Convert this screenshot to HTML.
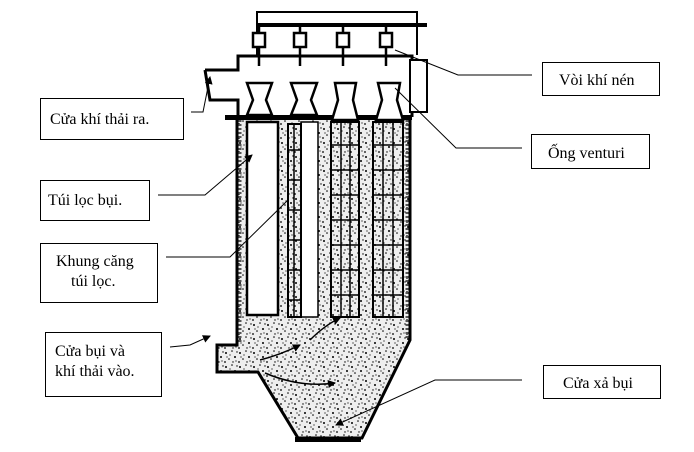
<!DOCTYPE html>
<html><head><meta charset="utf-8"><style>
html,body{margin:0;padding:0;background:#fff;}
svg{display:block}
text{font-family:"Liberation Serif",serif;font-size:16px;fill:#000}
</style></head><body>
<svg width="694" height="452" viewBox="0 0 694 452" xmlns="http://www.w3.org/2000/svg">
<defs>
<pattern id="dust" width="14" height="14" patternUnits="userSpaceOnUse">
<rect width="14" height="14" fill="#eeeeee"/>
<circle cx="2" cy="3" r="1" fill="#000"/><circle cx="8" cy="1" r="0.8" fill="#000"/>
<circle cx="11" cy="7" r="1" fill="#000"/><circle cx="5" cy="9" r="0.8" fill="#000"/>
<circle cx="1" cy="12" r="0.9" fill="#000"/><circle cx="9" cy="12" r="0.7" fill="#000"/>
<circle cx="6" cy="5" r="0.6" fill="#000"/><circle cx="13" cy="2" r="0.7" fill="#000"/>
<circle cx="3" cy="7" r="0.6" fill="#000"/><circle cx="12" cy="11" r="0.6" fill="#000"/>
</pattern>
<marker id="ar" markerWidth="8" markerHeight="8" refX="7" refY="4" orient="auto" markerUnits="userSpaceOnUse"><path d="M0,0 L8,4 L0,8 z" fill="#000"/></marker>
</defs>

<path d="M257,55 V12 H417 V55" fill="none" stroke="#000" stroke-width="2"/>
<line x1="258" y1="25" x2="427" y2="25" stroke="#000" stroke-width="4"/>
<g fill="#fff" stroke="#000" stroke-width="2.5">
<rect x="253" y="33" width="12" height="14"/><rect x="294" y="33" width="12" height="14"/>
<rect x="337" y="33" width="12" height="14"/><rect x="380" y="33" width="12" height="14"/>
</g>
<g stroke="#000" stroke-width="2.5">
<line x1="259" y1="25" x2="259" y2="33"/><line x1="300" y1="25" x2="300" y2="33"/>
<line x1="343" y1="25" x2="343" y2="33"/><line x1="386" y1="25" x2="386" y2="33"/>
<line x1="259" y1="47" x2="259" y2="66"/><line x1="300" y1="47" x2="300" y2="66"/>
<line x1="343" y1="47" x2="343" y2="66"/><line x1="386" y1="47" x2="386" y2="66"/>
</g>

<path d="M237,117 H410 V340 L362,438 H298 L258,372 H217 V345 H237 Z" fill="url(#dust)"/>
<path d="M205,70 H238 V56 H412 V117" fill="none" stroke="#000" stroke-width="3"/>
<path d="M205,70 L210,100 H238 V117" fill="none" stroke="#000" stroke-width="3"/>
<rect x="410" y="60" width="17" height="52" fill="#fff" stroke="#000" stroke-width="2"/>
<rect x="225" y="115" width="187" height="5" fill="#000"/>
<g fill="#fff" stroke="#000" stroke-width="2.5">
<path d="M247,83 H272 L266,100 L272,115 H247 L253,100 Z"/>
<path d="M291,83 H317 L311,100 L317,115 H291 L297,100 Z"/>
<path d="M335,83 H356 L353,100 L358,120 H332 L338,100 Z"/>
<path d="M378,83 H400 L397,100 L403,120 H376 L382,100 Z"/>
</g>
<path d="M237,117 V345 H217 V372 H258 L298,438 H362 L410,340 V117" fill="none" stroke="#000" stroke-width="3"/>
<path d="M240,120 V342 M407,120 V338" fill="none" stroke="#555" stroke-width="3" stroke-dasharray="2 2"/>
<rect x="295" y="437" width="66" height="5" fill="#000"/>
<rect x="247" y="122" width="31" height="193" fill="#fff" stroke="#000" stroke-width="2.5"/>
<rect x="301" y="122" width="17" height="195" fill="#fff" stroke="#000" stroke-width="1.5"/>
<g fill="none" stroke="#000" stroke-width="2">
<rect x="288" y="124" width="13" height="193"/>
<rect x="331" y="122" width="28" height="195"/>
<rect x="373" y="122" width="30" height="195"/>
</g>
<g stroke="#000" stroke-width="1.5">
<line x1="341" y1="122" x2="341" y2="317"/><line x1="350" y1="122" x2="350" y2="317"/>
<line x1="383" y1="122" x2="383" y2="317"/><line x1="393" y1="122" x2="393" y2="317"/>
<line x1="294" y1="124" x2="294" y2="317"/>
</g>
<g stroke="#000" stroke-width="1.5">
<path d="M288,150 H301 M288,180 H301 M288,210 H301 M288,240 H301 M288,270 H301 M288,300 H301"/>
<path d="M331,145 H359 M331,170 H359 M331,195 H359 M331,220 H359 M331,245 H359 M331,270 H359 M331,295 H359"/>
<path d="M373,145 H403 M373,170 H403 M373,195 H403 M373,220 H403 M373,245 H403 M373,270 H403 M373,295 H403"/>
</g>
<g fill="none" stroke="#000" stroke-width="1.5">
<path d="M260,360 Q280,355 300,345" marker-end="url(#ar)"/>
<path d="M265,373 Q300,388 335,383" marker-end="url(#ar)"/>
<path d="M310,340 Q325,325 340,318" marker-end="url(#ar)"/>
</g>

<g fill="#fff" stroke="#000" stroke-width="1">
<rect x="40.5" y="98.5" width="143" height="41"/>
<rect x="40.5" y="180.5" width="109" height="40"/>
<rect x="40.5" y="243.5" width="117" height="59"/>
<rect x="45.5" y="332.5" width="116" height="64"/>
<rect x="542.5" y="62.5" width="117" height="33"/>
<rect x="531.5" y="134.5" width="118" height="34"/>
<rect x="543.5" y="365.5" width="117" height="33"/>
</g>
<text x="50" y="124">Cửa khí thải ra.</text>
<text x="48" y="205">Túi lọc bụi.</text>
<text x="56" y="266">Khung căng</text>
<text x="71" y="286">túi lọc.</text>
<text x="55" y="356">Cửa bụi và</text>
<text x="55" y="376">khí thải vào.</text>
<text x="559" y="85">Vòi khí nén</text>
<text x="548" y="158">Ống venturi</text>
<text x="563" y="388">Cửa xả bụi</text>

<g fill="none" stroke="#000" stroke-width="1">
<path d="M191,112 H203 L210,77" marker-end="url(#ar)"/>
<path d="M158,195 H205 L252,155" marker-end="url(#ar)"/>
<path d="M166,257 H230 L288,200"/>
<path d="M170,347 L190,345 L210,336" marker-end="url(#ar)"/>
<path d="M532,75 H458 L395,50"/>
<path d="M522,148 H456 L395,88"/>
<path d="M522,380 H435 L336,425" marker-end="url(#ar)"/>
</g>
</svg>
</body></html>
